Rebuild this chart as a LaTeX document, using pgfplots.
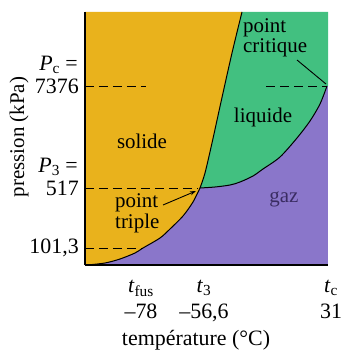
\documentclass[border=0pt]{standalone}
\usepackage{fontspec}
\setmainfont{Liberation Serif}
\usepackage{pgfplots}
\pgfplotsset{compat=1.18}
\usetikzlibrary{arrows.meta}
\definecolor{solidc}{RGB}{233,178,28}
\definecolor{liqc}{RGB}{66,192,128}
\definecolor{gasc}{RGB}{138,118,202}
\definecolor{gastext}{RGB}{58,44,98}
\begin{document}
\begin{tikzpicture}
\path[use as bounding box] (-85bp,-87bp) rectangle (257bp,265bp);
\begin{axis}[
  at={(0,0)}, anchor=south west,
  width=243bp, height=253bp, scale only axis,
  xmin=0, xmax=243, ymin=0, ymax=253,
  clip=false, axis on top,
  axis x line*=bottom, axis y line*=left,
  axis line style={-, line width=1.1bp},
  major tick length=0pt,
  xtick={56,119,242},
  xticklabels={{\textit{t}\textsubscript{fus}\\\textendash78},{\textit{t}\textsubscript{3}\\\textendash56,6},{\hspace*{8bp}\textit{t}\textsubscript{c}\\\hspace*{8bp}31}},
  xticklabel style={align=center, yshift=-12bp, font=\fontsize{22}{26}\selectfont},
  ytick={17,77,179},
  yticklabels={{101,3},{517},{7376}},
  yticklabel style={inner sep=1bp, xshift=-5bp, font=\fontsize{22}{22}\selectfont},
  xlabel={température (°C)},
  xlabel style={at={(axis cs:111,-75)}, anchor=center, font=\fontsize{22}{24}\selectfont},
  ylabel={pression (kPa)},
  ylabel style={at={(axis cs:-66,128)}, anchor=center, font=\fontsize{21}{22}\selectfont},
]
% gas region (background)
\addplot[draw=none, fill=gasc] coordinates {(0,0)(243,0)(243,253)(0,253)} -- cycle;
% liquid region
\addplot[draw=none, fill=liqc] coordinates {(115,77)(130,78)(145,80)(155,83)(168,89)(178,96)(195,108)(212,127)(225,144)(235,161)(242,179)(243,179)(243,253)(157,253)(147,212)(136,163)(127,122)(120,92)} -- cycle;
% solid region
\addplot[draw=none, fill=solidc] coordinates {(0,0)(2,0)(20,2)(35,6)(50,12)(58,17)(75,27)(85,36)(98,49)(108,63)(115,77)(120,92)(127,122)(136,163)(147,212)(157,253)(0,253)} -- cycle;
% phase boundaries
\addplot[black, line width=1bp, smooth] coordinates {(2,0)(20,2)(35,6)(50,12)(58,17)(75,27)(85,36)(98,49)(108,63)(115,77)};
\addplot[black, line width=1bp, smooth] coordinates {(115,77)(120,92)(127,122)(136,163)(147,212)(157,253)};
\addplot[black, line width=1bp, smooth] coordinates {(115,77)(130,78)(145,80)(155,83)(168,89)(178,96)(195,108)(212,127)(225,144)(235,161)(242,179)};
% dashed guides
\addplot[black, line width=0.9bp, dash pattern=on 9bp off 5bp] coordinates {(0,179)(61,179)};
\addplot[black, line width=0.9bp, dash pattern=on 9bp off 5bp] coordinates {(181,179)(242,179)};
\addplot[black, line width=0.9bp, dash pattern=on 9bp off 5bp] coordinates {(0,77)(113,77)};
\addplot[black, line width=0.9bp, dash pattern=on 9bp off 5bp] coordinates {(0,17)(58,17)};
% labels
\node[font=\fontsize{21}{22}\selectfont] at (axis cs:57,124) {solide};
\node[font=\fontsize{21}{22}\selectfont] at (axis cs:178,148) {liquide};
\node[font=\fontsize{21}{22}\selectfont, text=gastext] at (axis cs:199,66) {gaz};
\node[anchor=north west, align=left, inner sep=0pt, font=\fontsize{21}{21}\selectfont] at (axis cs:158,247) {point\\critique};
\draw[line width=0.9bp] (axis cs:212,205) -- (axis cs:241,181);
\node[anchor=north west, align=left, inner sep=0pt, font=\fontsize{21}{22}\selectfont] at (axis cs:30,72) {point\\triple};
\draw[-{Stealth[length=6bp,width=4bp]}, line width=0.9bp] (axis cs:78,60) -- (axis cs:111,74);
\node[anchor=east, inner sep=1bp, font=\fontsize{22}{22}\selectfont] at (axis cs:-6,200) {\textit{P}\textsubscript{c} =};
\node[anchor=east, inner sep=1bp, font=\fontsize{22}{22}\selectfont] at (axis cs:-6,98) {\textit{P}\textsubscript{3} =};
\end{axis}
\end{tikzpicture}
\end{document}
